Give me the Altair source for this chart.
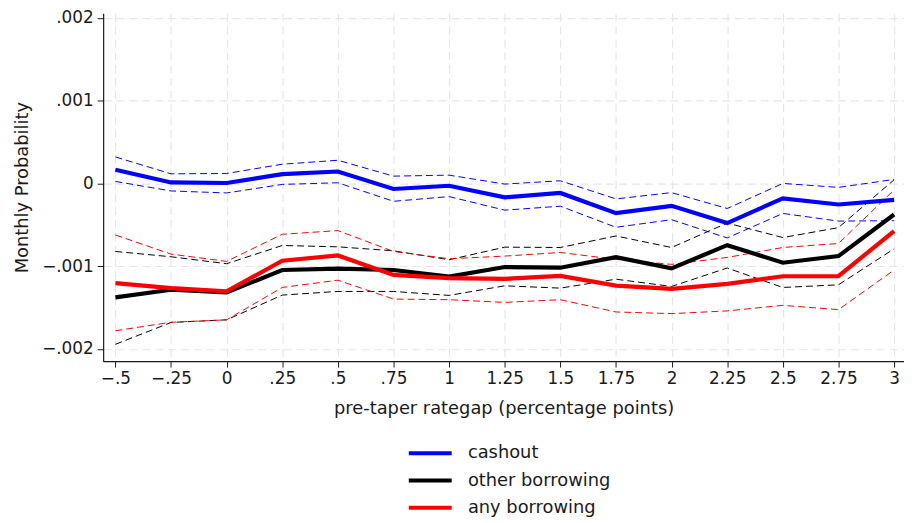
import altair as alt
import pandas as pd

x_vals = [-0.5, -0.25, 0, 0.25, 0.5, 0.75, 1, 1.25, 1.5, 1.75, 2, 2.25, 2.5, 2.75, 3]
series_names = ["cashout", "other borrowing", "any borrowing"]
series_colors = ["#0000ff", "#000000", "#ff0000"]

cashout = [0.000164, 0.000012, 0.000005, 0.000112, 0.000144, -0.000067, -0.000028, -0.000168,
           -0.000115, -0.000359, -0.000271, -0.000479, -0.00018, -0.000255, -0.000199]
cashout_hi = [0.00032, 0.000116, 0.00012, 0.000232, 0.00028, 0.000088, 0.0001, -0.000008,
              0.000032, -0.000187, -0.000111, -0.000303, 0.0, -0.000048, 0.000048]
cashout_lo = [0.000024, -0.000091, -0.000115, -0.000012, 0.000008, -0.000216, -0.000159, -0.000323,
              -0.000275, -0.00053, -0.000438, -0.000659, -0.000363, -0.000455, -0.00045]
other = [-0.001377, -0.001285, -0.001317, -0.001046, -0.00103, -0.001046, -0.001126, -0.00101,
         -0.001018, -0.00089, -0.001026, -0.000746, -0.000958, -0.000878, -0.000375]
other_hi = [-0.000822, -0.000886, -0.00097, -0.00075, -0.000766, -0.000814, -0.000922, -0.00077,
            -0.000774, -0.000635, -0.000774, -0.000479, -0.000654, -0.000534, 0.000044]
other_lo = [-0.001944, -0.00168, -0.001648, -0.001349, -0.001305, -0.001305, -0.001353, -0.001237,
            -0.001265, -0.001157, -0.001245, -0.001022, -0.001257, -0.001225, -0.00079]
anyb = [-0.001205, -0.001265, -0.001305, -0.000934, -0.00087, -0.001105, -0.001145, -0.001153,
        -0.001117, -0.001234, -0.001273, -0.001213, -0.001121, -0.001121, -0.000575]
anyb_hi = [-0.000623, -0.000854, -0.000942, -0.000614, -0.00057, -0.000822, -0.00091, -0.000878,
           -0.000834, -0.000918, -0.000978, -0.000894, -0.000774, -0.000726, -0.000079]
anyb_lo = [-0.00178, -0.001677, -0.001648, -0.001257, -0.001169, -0.001397, -0.001405, -0.001437,
           -0.001405, -0.001553, -0.001573, -0.00154, -0.001473, -0.001525, -0.001046]

y_ticks = [-0.002, -0.001, 0, 0.001, 0.002]

mains = {"cashout": cashout, "other borrowing": other, "any borrowing": anyb}
his = {"cashout": cashout_hi, "other borrowing": other_hi, "any borrowing": anyb_hi}
los = {"cashout": cashout_lo, "other borrowing": other_lo, "any borrowing": anyb_lo}

main_rows, ci_rows = [], []
for si, s in enumerate(series_names):
    for i, xv in enumerate(x_vals):
        main_rows.append({"x": xv, "y": mains[s][i], "series": s, "order": si})
        ci_rows.append({"x": xv, "y": his[s][i], "ci_series": s, "band": s + " hi"})
        ci_rows.append({"x": xv, "y": los[s][i], "ci_series": s, "band": s + " lo"})
main_df = pd.DataFrame(main_rows)
ci_df = pd.DataFrame(ci_rows)

FONT = "DejaVu Sans"

x_enc = alt.X("x:Q", title="pre-taper rategap (percentage points)",
              scale=alt.Scale(domain=[-0.555, 3.0446], nice=False, zero=False),
              axis=alt.Axis(values=x_vals,
                            labelExpr="replace(format(datum.value, '.2~f'), '0.', '.')"))
y_enc = alt.Y("y:Q", title="Monthly Probability",
              scale=alt.Scale(domain=[-0.002147, 0.002056], nice=False, zero=False),
              axis=alt.Axis(values=y_ticks,
                            labelExpr="replace(format(datum.value, '.3~f'), '0.', '.')"))

ci = alt.Chart(ci_df).mark_line(strokeWidth=1, strokeDash=[7, 4]).encode(
    x=x_enc, y=y_enc,
    color=alt.Color("ci_series:N", scale=alt.Scale(domain=series_names, range=series_colors), legend=None),
    detail="band:N",
)

main = alt.Chart(main_df).mark_line(strokeWidth=4.2).encode(
    x=x_enc, y=y_enc,
    color=alt.Color("series:N", scale=alt.Scale(domain=series_names, range=series_colors),
                    sort=series_names,
                    legend=alt.Legend(title=None, orient="none", legendX=319, legendY=433,
                                      symbolType="M-2.5,0H2.5", symbolSize=300, symbolStrokeWidth=4,
                                      labelFontSize=18, labelFont=FONT, labelColor="#1a1a1a",
                                      rowPadding=7.5, labelOffset=27)),
    order="order:Q",
)

chart = alt.layer(ci, main).resolve_scale(color="independent").properties(
    width=808, height=351,
    autosize=alt.AutoSizeParams(type="none"),
    padding={"left": 96, "top": 3, "right": 0, "bottom": 158},
).configure_view(stroke=None).configure_axis(
    labelFont=FONT, titleFont=FONT, labelFontSize=17, titleFontSize=18,
    labelColor="#1a1a1a", titleColor="#1a1a1a", titleFontWeight="normal",
    domainColor="#1a1a1a", tickColor="#1a1a1a", tickSize=6, domainWidth=1.2,
    gridColor="#e6e6e6", gridDash=[8, 5], gridWidth=1.2,
    labelPadding=4,
).configure_axisY(titlePadding=10, labelAngle=0).configure_axisX(titlePadding=13)

chart.save("out.html", embed_options={"renderer": "svg", "actions": False})
